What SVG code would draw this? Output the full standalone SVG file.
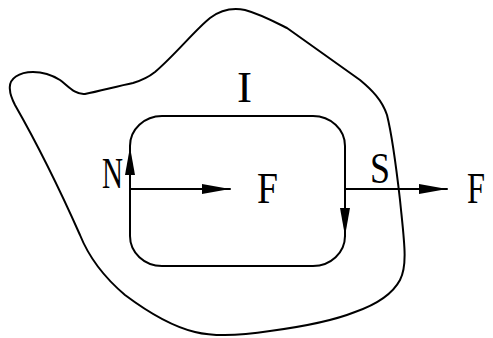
<svg xmlns="http://www.w3.org/2000/svg" width="493" height="338" viewBox="0 0 493 338">
<defs>
<style>
.ln{fill:none;stroke:#000;stroke-width:2;stroke-linejoin:round;stroke-linecap:round}
.t{font-family:"Liberation Serif","DejaVu Serif",serif;font-size:44px;fill:#000}
</style>
<marker id="ah" markerUnits="userSpaceOnUse" markerWidth="28" markerHeight="10" refX="28" refY="5" orient="auto" viewBox="0 0 28 10">
<path d="M0,0 L28,5 L0,10 z" fill="#000"/>
</marker>
</defs>
<rect width="493" height="338" fill="#fff"/>
<g id="region">
<path class="ln" d="M 10,90 C 8,78 20,72 33,72 C 45,72 52,75 60,80 C 68,86 75,95 85,94 C 100,91 118,86 133,83 C 143,80 150,76 155,72 C 175,55 195,30 210,18 C 222,9 235,8 245,10 C 260,14 275,22 287,28 L 360,80 C 372,90 382,100 387,115 C 392,135 396,165 400,200 C 404,240 408,265 400,280 C 392,295 375,305 355,312 C 330,322 300,327 270,331 C 245,335 215,337 195,332 C 170,326 145,310 125,295 C 105,278 90,260 80,235 C 60,190 35,140 15,105 C 12,99 10,95 10,90 Z"/>
<text class="t" x="237" y="102" textLength="15" lengthAdjust="spacingAndGlyphs">I</text>
</g>
<g id="surface">
<rect class="ln" x="130" y="116" width="215" height="150" rx="32" ry="30"/>
<text class="t" x="102" y="188" textLength="21" lengthAdjust="spacingAndGlyphs">N</text>
<text class="t" x="370" y="183" textLength="20" lengthAdjust="spacingAndGlyphs">S</text>
</g>
<g id="labels">
<text class="t" x="257" y="203" textLength="21" lengthAdjust="spacingAndGlyphs">F</text>
<text class="t" x="467" y="203" textLength="18" lengthAdjust="spacingAndGlyphs">F</text>
</g>
<g id="connectors">
<line class="ln" x1="130" y1="189" x2="230" y2="189" marker-end="url(#ah)"/>
<line class="ln" x1="345" y1="189" x2="447" y2="189" marker-end="url(#ah)"/>
<line class="ln" x1="130" y1="185" x2="130" y2="147" marker-end="url(#ah)"/>
<line class="ln" x1="345" y1="195" x2="345" y2="236" marker-end="url(#ah)"/>
</g>
</svg>
